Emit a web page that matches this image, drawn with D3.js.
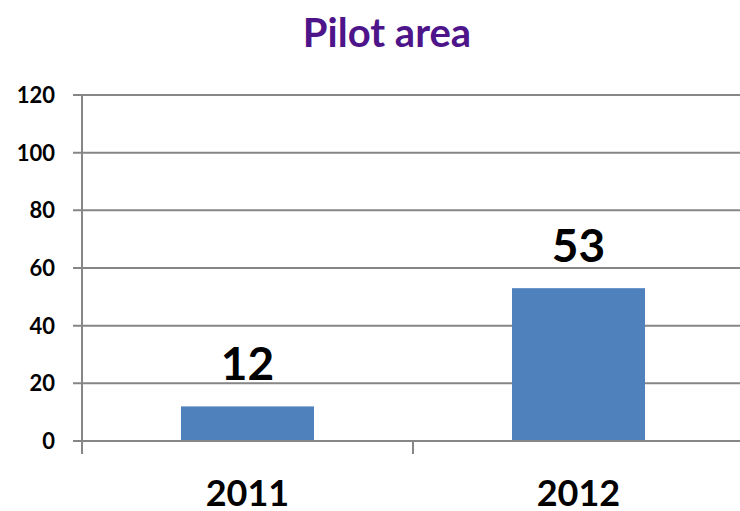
<!DOCTYPE html>
<html>
<head>
<meta charset="utf-8">
<script src="https://cdn.jsdelivr.net/npm/d3@7"></script>
<style>
  body { margin: 0; background: #fff; }
  svg { display: block; font-family: Lato, "Open Sans", sans-serif; }
</style>
</head>
<body>
<svg id="chart" width="740" height="511"></svg>
<script>
// data
var years = ["2011", "2012"];
var values = [12, 53];
var yTicks = [0, 20, 40, 60, 80, 100, 120];

var svg = d3.select("#chart");
var plotL = 82, plotR = 744, plotT = 95, plotB = 441;

var x = d3.scaleBand().domain(years).range([plotL, plotR]).paddingInner(0).paddingOuter(0);
var y = d3.scaleLinear().domain([0, 120]).range([plotB, plotT]);
var barW = 133;

// title
svg.append("text")
    .attr("x", 387)
    .attr("y", 47)
    .attr("text-anchor", "middle")
    .attr("font-size", 40)
    .attr("font-weight", "bold")
    .attr("fill", "#4d1589")
    .text("Pilot area");

// gridlines + y axis ticks
var grid = svg.append("g");
grid.selectAll("line")
    .data(yTicks)
    .join("line")
    .attr("x1", plotL - 9)
    .attr("x2", plotR)
    .attr("y1", d => y(d))
    .attr("y2", d => y(d))
    .attr("stroke", "#868686")
    .attr("stroke-width", 2);

grid.selectAll("text")
    .data(yTicks)
    .join("text")
    .attr("x", 55)
    .attr("y", d => y(d) + 8)
    .attr("text-anchor", "end")
    .attr("font-size", 22)
    .attr("font-weight", "bold")
    .attr("fill", "#000")
    .text(d => d);

// bars
svg.append("g")
    .selectAll("rect")
    .data(values)
    .join("rect")
    .attr("x", (d, i) => x(years[i]) + x.bandwidth() / 2 - barW / 2)
    .attr("width", barW)
    .attr("y", d => y(d))
    .attr("height", d => plotB - y(d))
    .attr("fill", "#4f81bd");

// value labels
svg.append("g")
    .selectAll("text")
    .data(values)
    .join("text")
    .attr("x", (d, i) => x(years[i]) + x.bandwidth() / 2)
    .attr("y", d => y(d) - 26)
    .attr("text-anchor", "middle")
    .attr("font-size", 46)
    .attr("font-weight", "bold")
    .attr("fill", "#000")
    .text(d => d);

// y axis line
svg.append("line")
    .attr("x1", plotL).attr("x2", plotL)
    .attr("y1", plotT).attr("y2", plotB + 13)
    .attr("stroke", "#868686")
    .attr("stroke-width", 2);

// x axis line + ticks
svg.append("line")
    .attr("x1", plotL).attr("x2", plotR)
    .attr("y1", plotB).attr("y2", plotB)
    .attr("stroke", "#868686")
    .attr("stroke-width", 2);

svg.append("g")
    .selectAll("line")
    .data(years)
    .join("line")
    .attr("x1", d => x(d) + x.bandwidth())
    .attr("x2", d => x(d) + x.bandwidth())
    .attr("y1", plotB)
    .attr("y2", plotB + 13)
    .attr("stroke", "#868686")
    .attr("stroke-width", 2);

// category labels
svg.append("g")
    .selectAll("text")
    .data(years)
    .join("text")
    .attr("x", d => x(d) + x.bandwidth() / 2)
    .attr("y", 506)
    .attr("text-anchor", "middle")
    .attr("font-size", 36)
    .attr("font-weight", "bold")
    .attr("fill", "#000")
    .text(d => d);
</script>
</body>
</html>
